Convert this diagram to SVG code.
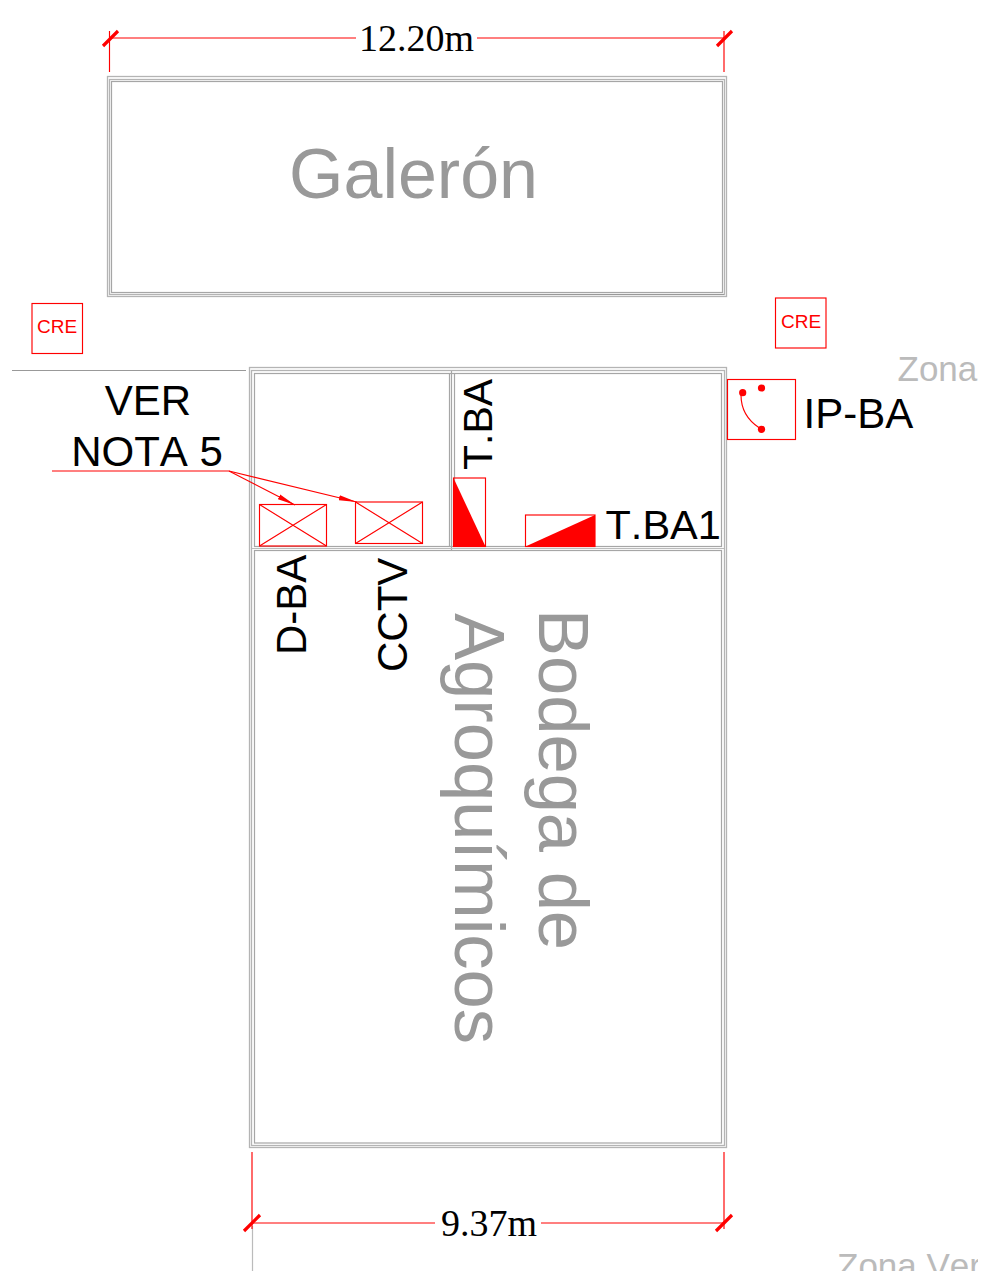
<svg xmlns="http://www.w3.org/2000/svg" width="988" height="1271" viewBox="0 0 988 1271">
<style>
text{font-family:"Liberation Sans",Arial,sans-serif;font-kerning:none}
.w{fill:none;stroke:#a6a6a6;stroke-width:1.2}
.o{fill:none;stroke:#b4b4b4;stroke-width:1.3}
.r{fill:none;stroke:#f00;stroke-width:1.15}
.f{fill:#f00;stroke:none}
.t{stroke:#f00;stroke-width:3.2;fill:none}
.k{fill:#000;font-size:42px}
.g{fill:#999;font-size:70px}
.z{fill:#bbb;font-size:35px}
.d{fill:#000;font-size:38px;font-family:"Liberation Serif","Times New Roman",serif;text-anchor:middle}
.c{fill:#f00;font-size:19px;text-anchor:middle}
</style>
<defs>
<clipPath id="crop"><rect x="0" y="0" width="978" height="1271"/></clipPath>
<marker id="ah" viewBox="0 0 18 6" refX="18" refY="3" markerWidth="18" markerHeight="6" markerUnits="userSpaceOnUse" orient="auto"><path d="M0 0.4L18 3L0 5.6Z" fill="#f00"/></marker>
</defs>
<g id="galeron">
<rect class="o" x="107.5" y="76.5" width="619" height="220"/>
<rect class="o" x="109.5" y="79.5" width="615" height="215"/>
<rect class="w" x="111.5" y="81.5" width="611" height="211"/>
<path d="M430 294.500H724" stroke="#999" stroke-width="1.200" fill="none"/>
<text class="g" x="289" y="198">Galerón</text>
</g>
<g id="bodega">
<rect class="o" x="249.500" y="367.500" width="477" height="780"/>
<rect class="o" x="251.500" y="370.500" width="473" height="775"/>
<rect class="w" x="254.500" y="373.500" width="467" height="173"/>
<rect class="w" x="254.500" y="550.500" width="467" height="592.500"/>
<path class="w" d="M449.500 373V546.700M451.500 371V550M454.500 373V546.700"/>
<path d="M252 548.500H724" stroke="#bbb" stroke-width="1" fill="none"/>
<text class="g" transform="translate(539 609) rotate(90)" style="font-size:70.500px">Bodega de</text>
<text class="g" transform="translate(455 613) rotate(90)" style="font-size:70.500px">Agroquímicos</text>
</g>
<g id="cre-1"><rect class="r" x="32" y="303.500" width="50.500" height="50"/><text class="c" x="57" y="333">CRE</text></g>
<g id="cre-2"><rect class="r" x="775.500" y="298" width="50.500" height="50"/><text class="c" x="801" y="328">CRE</text></g>
<g id="d-ba">
<rect class="r" x="259.500" y="504.500" width="67" height="41.500"/><path class="r" d="M259.500 504.500L326.500 546M326.500 504.500L259.500 546"/>
<text class="k" transform="translate(306 655) rotate(-90)">D-BA</text>
</g>
<g id="cctv">
<rect class="r" x="355.500" y="502" width="67" height="41.500"/><path class="r" d="M355.500 502L422.500 543.500M422.500 502L355.500 543.500"/>
<text class="k" transform="translate(407 672) rotate(-90)">CCTV</text>
</g>
<g id="t-ba">
<rect class="r" x="453.500" y="478" width="32" height="68.500"/><path class="f" d="M453.500 478V546.500H485.500Z"/>
<text class="k" transform="translate(492 470) rotate(-90)" style="font-size:41px">T.BA</text>
</g>
<g id="t-ba1">
<rect class="r" x="525.500" y="515" width="69.500" height="31.500"/><path class="f" d="M525.500 546.500L595 515V546.500Z"/>
<text class="k" x="605.500" y="539" style="font-size:41.500px">T.BA1</text>
</g>
<g id="ip-ba">
<rect class="r" x="727.500" y="379.500" width="68" height="60"/>
<circle class="f" cx="742.700" cy="392.700" r="3.600"/><circle class="f" cx="761.500" cy="388" r="3.600"/><circle class="f" cx="761.500" cy="429.300" r="3.600"/>
<path class="r" d="M741 395Q741 416 759.500 428"/>
<text class="k" x="803.500" y="428">IP-BA</text>
</g>
<g id="nota">
<text class="k" x="148" y="414.500" text-anchor="middle">VER</text>
<text class="k" x="147" y="466" text-anchor="middle">NOTA 5</text>
</g>
<g id="zones" clip-path="url(#crop)">
<text class="z" x="897.500" y="381">Zona</text>
<text class="z" x="837" y="1278">Zona Ver</text>
</g>
<g id="connectors">
<path d="M12 370.500H246" stroke="#999" stroke-width="1" fill="none"/>
<path d="M252.500 1226V1271" stroke="#bbb" stroke-width="1.200" fill="none"/>
<path class="r" d="M52 471H229"/>
<path class="r" d="M229 471L295 505" marker-end="url(#ah)"/>
<path class="r" d="M229 471L356.700 502" marker-end="url(#ah)"/>
<path class="r" d="M109.500 31V72M724 31V72M110 38H356M477 38H724M252 1152V1229M724 1152V1229M252 1223H435M541 1223H724"/>
<path class="t" d="M103 46L118 31M717 46L732 31M244 1231L260 1215M716 1231L732 1215"/>
</g>
<g id="dimensions">
<text class="d" x="416.500" y="51">12.20m</text>
<text class="d" x="489" y="1236">9.37m</text>
</g>
</svg>
